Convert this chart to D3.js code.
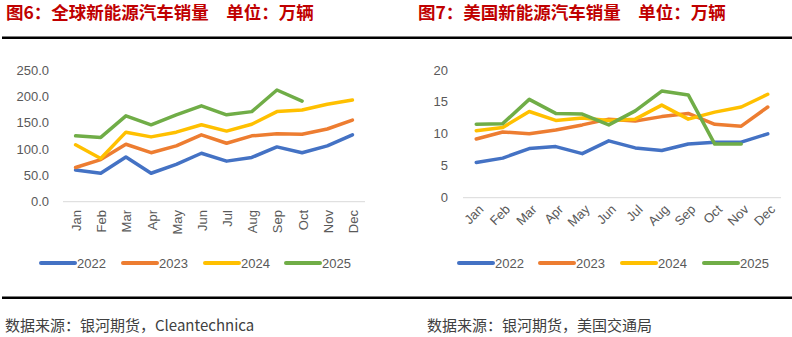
<!DOCTYPE html>
<html><head><meta charset="utf-8">
<script src="https://cdn.jsdelivr.net/npm/d3@7"></script>
<style>
body{margin:0;background:#fff;}
svg{display:block;}
</style></head>
<body><svg id="c" width="792" height="337"></svg>
<script>
const months = ["Jan","Feb","Mar","Apr","May","Jun","Jul","Aug","Sep","Oct","Nov","Dec"];
const years = ["2022","2023","2024","2025"];
const colors = ["#4472C4","#ED7D31","#FFC000","#70AD47"];

// 图6 全球新能源汽车销量（万辆）
const global2022 = [60,54,85,54,71,92,77,84,104,93,106,127];
const global2023 = [65,80,109,93,106,127,111,125,129,128,138,155];
const global2024 = [108,82,132,123,132,146,134,147,171,174,185,193];
const global2025 = [125,122,163,146,165,182,165,171,212,191];
const globalTicks = [0,50,100,150,200,250];

// 图7 美国新能源汽车销量（万辆）
const us2022 = [5.5,6.2,7.7,8.0,6.9,8.9,7.8,7.4,8.4,8.7,8.7,10.0];
const us2023 = [9.2,10.3,10.0,10.6,11.4,12.3,12.0,12.7,13.2,11.5,11.2,14.2];
const us2024 = [10.5,11.0,13.5,12.1,12.5,12.1,12.3,14.5,12.3,13.4,14.2,16.2];
const us2025 = [11.5,11.6,15.4,13.2,13.1,11.4,13.6,16.7,16.1,8.4,8.4];
const usTicks = [0,5,10,15,20];

const svg = d3.select("#c");
const red = "#C00000", gray = "#595959";
const font = "'Liberation Sans', Arial, sans-serif";
const cjk = "'Noto Sans CJK SC', sans-serif";

// titles & rules
svg.append("text").attr("x",6).attr("y",19).attr("fill",red).attr("font-family",cjk)
  .attr("font-weight","bold").attr("font-size",17.5).text("图6：全球新能源汽车销量　单位：万辆");
svg.append("text").attr("x",418).attr("y",19).attr("fill",red).attr("font-family",cjk)
  .attr("font-weight","bold").attr("font-size",17.5).text("图7：美国新能源汽车销量　单位：万辆");
svg.append("line").attr("x1",2).attr("x2",792).attr("y1",37.7).attr("y2",37.7).attr("stroke","#000").attr("stroke-width",2.6);
svg.append("line").attr("x1",2).attr("x2",792).attr("y1",297.7).attr("y2",297.7).attr("stroke","#000").attr("stroke-width",2.6);
svg.append("text").attr("x",5).attr("y",331).attr("fill","#404040").attr("font-family",cjk)
  .attr("font-size",15).text("数据来源：银河期货，Cleantechnica");
svg.append("text").attr("x",427).attr("y",331).attr("fill","#404040").attr("font-family",cjk)
  .attr("font-size",15).text("数据来源：银河期货，美国交通局");

function chart(cfg){
  const g = svg.append("g");
  const x = d3.scaleBand().domain(months).range([cfg.x0,cfg.x1]);
  const y = d3.scaleLinear().domain([0,cfg.max]).range([cfg.yb,cfg.yt]);
  // y labels
  g.selectAll(".yl").data(cfg.ticks).join("text")
    .attr("x",cfg.ylx).attr("y",d=>y(d)).attr("dy","0.35em").attr("text-anchor","end")
    .attr("font-family",font).attr("font-size",13).attr("fill",gray)
    .text(d=>cfg.fmt(d));
  // baseline
  g.append("line").attr("x1",cfg.x0).attr("x2",cfg.x1).attr("y1",y(0)).attr("y2",y(0))
    .attr("stroke","#d9d9d9").attr("stroke-width",1);
  // x labels
  g.selectAll(".xl").data(months).join("text")
    .attr("transform",d=>{
      const cx = x(d)+x.bandwidth()/2;
      return cfg.rot===-90 ? `translate(${cx+1},${cfg.xly}) rotate(-90)` : `translate(${cx+5},${cfg.xly}) rotate(-45)`;
    })
    .attr("dy","0.35em").attr("text-anchor","end")
    .attr("font-family",font).attr("font-size",13).attr("fill",gray).text(d=>d);
  const line = d3.line().x((d,i)=>x(months[i])+x.bandwidth()/2).y(d=>y(d));
  cfg.series.forEach((s,k)=>{
    g.append("path").attr("d",line(s)).attr("fill","none").attr("stroke",colors[k])
      .attr("stroke-width",3.5).attr("stroke-linejoin","round").attr("stroke-linecap","round");
  });
  // legend
  cfg.legendX.forEach((lx,k)=>{
    g.append("line").attr("x1",lx).attr("x2",lx+34).attr("y1",cfg.ly).attr("y2",cfg.ly)
      .attr("stroke",colors[k]).attr("stroke-width",4).attr("stroke-linecap","round");
    g.append("text").attr("x",lx+36).attr("y",cfg.ly).attr("dy","0.35em")
      .attr("font-family",font).attr("font-size",13).attr("fill",gray).text(years[k]);
  });
}

chart({x0:63,x1:365,yb:201.7,yt:70,max:250,ticks:globalTicks,fmt:d=>d.toFixed(1),ylx:49,
  rot:-90,xly:210,series:[global2022,global2023,global2024,global2025],
  legendX:[41,123,205,286],ly:263});
chart({x0:463,x1:781,yb:197.7,yt:70,max:20,ticks:usTicks,fmt:d=>String(d),ylx:448,
  rot:-45,xly:207,series:[us2022,us2023,us2024,us2025],
  legendX:[459,540,622,704],ly:263});
</script></body></html>
